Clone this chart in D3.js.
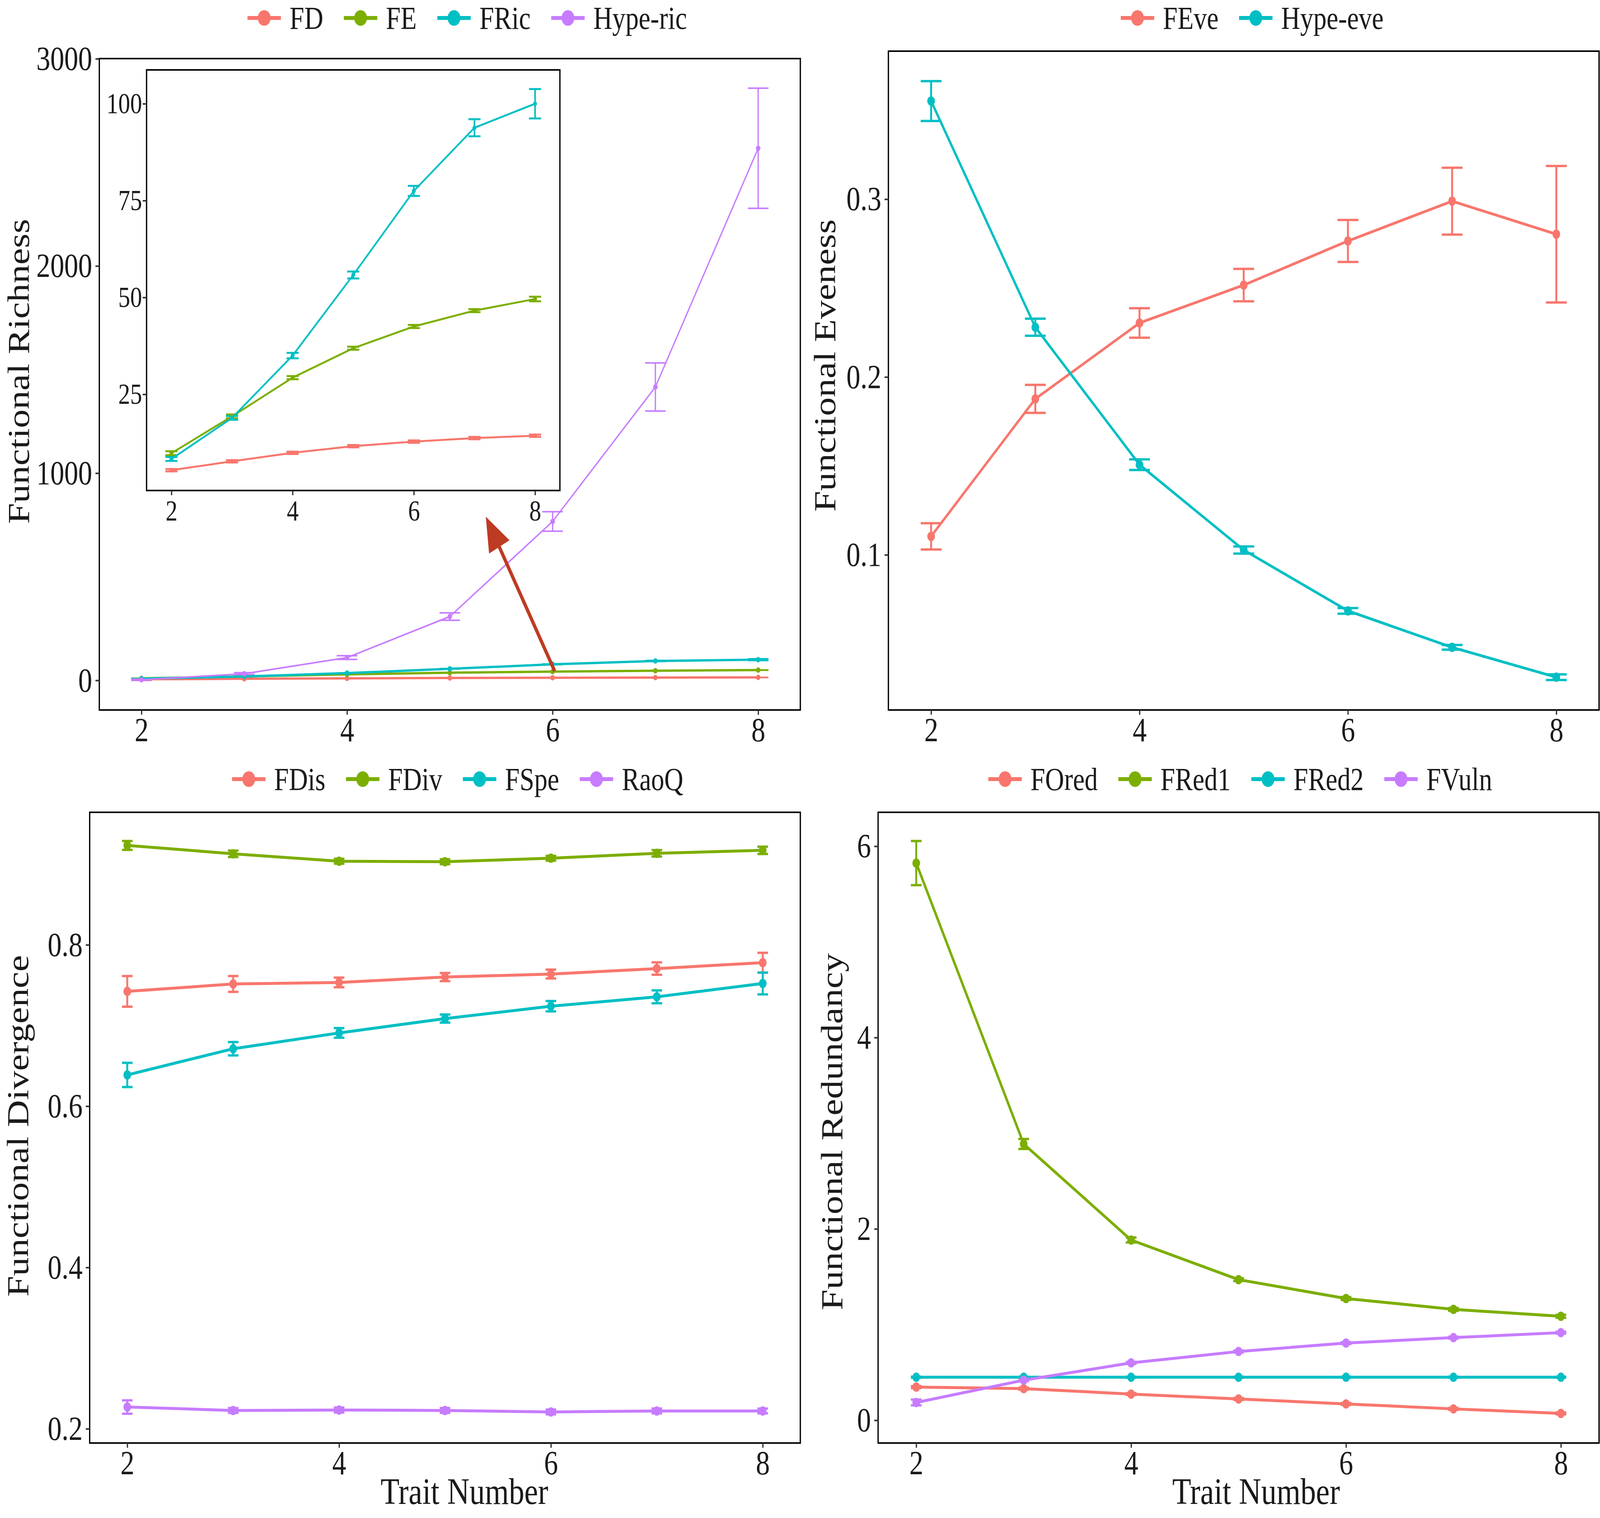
<!DOCTYPE html>
<html>
<head>
<meta charset="utf-8">
<title>Functional diversity and trait number</title>
<script src="https://cdn.jsdelivr.net/npm/d3@7"></script>
<style>
  html, body { margin: 0; padding: 0; background: #fff; overflow: hidden; }
  svg { display: block; }
</style>
</head>
<body>
<script>
// x axis: number of traits
var traits = [2, 3, 4, 5, 6, 7, 8];
var xTicks = [2, 4, 6, 8];

// panel a: functional richness (mean and error)
var richNames = ["FD", "FE", "FRic", "Hype-ric"];
var fdMean = [5.4, 7.7, 9.9, 11.6, 12.8, 13.7, 14.3];
var fdSe = [0.3, 0.3, 0.3, 0.3, 0.3, 0.3, 0.3];
var feMean = [9.8, 19.3, 29.3, 36.9, 42.5, 46.6, 49.6];
var feSe = [0.5, 0.5, 0.4, 0.4, 0.4, 0.4, 0.6];
var fricMean = [8.3, 18.9, 35.0, 55.8, 77.5, 93.8, 100.0];
var fricSe = [0.5, 0.5, 0.7, 0.9, 1.3, 2.2, 3.8];
var hypeRicMean = [3, 32, 110, 308, 767, 1416, 2568];
var hypeRicSe = [3, 5, 9, 18, 47, 116, 290];
var richTicks = [0, 1000, 2000, 3000];
var insetTicks = [25, 50, 75, 100];

// panel b: functional evenness
var evenNames = ["FEve", "Hype-eve"];
var feveMean = [0.1104, 0.1877, 0.2304, 0.2517, 0.2765, 0.2989, 0.2803];
var feveSe = [0.0074, 0.0079, 0.0083, 0.0091, 0.0118, 0.0188, 0.0384];
var hypeEveMean = [0.3552, 0.2280, 0.1507, 0.1027, 0.0685, 0.0480, 0.0312];
var hypeEveSe = [0.0112, 0.0048, 0.0030, 0.0020, 0.0016, 0.0013, 0.0016];
var evenTicks = [0.1, 0.2, 0.3];

// panel c: functional divergence
var divNames = ["FDis", "FDiv", "FSpe", "RaoQ"];
var fdisMean = [0.7423, 0.7515, 0.7534, 0.7601, 0.7638, 0.7706, 0.7779];
var fdisSe = [0.019, 0.0098, 0.006, 0.005, 0.0055, 0.0077, 0.0123];
var fdivMean = [0.9233, 0.9129, 0.9037, 0.9031, 0.9074, 0.9135, 0.9172];
var fdivSe = [0.0055, 0.004, 0.003, 0.003, 0.003, 0.004, 0.0045];
var fspeMean = [0.6387, 0.6712, 0.6908, 0.7086, 0.7239, 0.7356, 0.7521];
var fspeSe = [0.015, 0.0083, 0.006, 0.005, 0.0064, 0.008, 0.0135];
var raoqMean = [0.2270, 0.2227, 0.2233, 0.2227, 0.2209, 0.2221, 0.2221];
var raoqSe = [0.0083, 0.003, 0.003, 0.003, 0.003, 0.003, 0.003];
var divTicks = [0.2, 0.4, 0.6, 0.8];

// panel d: functional redundancy
var redNames = ["FOred", "FRed1", "FRed2", "FVuln"];
var foredMean = [0.347, 0.331, 0.274, 0.223, 0.171, 0.119, 0.072];
var foredSe = [0.01, 0.01, 0.01, 0.01, 0.01, 0.01, 0.01];
var fred1Mean = [5.824, 2.888, 1.884, 1.470, 1.273, 1.159, 1.087];
var fred1Se = [0.231, 0.052, 0.026, 0.015, 0.015, 0.015, 0.015];
var fred2Mean = [0.45, 0.45, 0.45, 0.45, 0.45, 0.45, 0.45];
var fred2Se = [0.005, 0.005, 0.005, 0.005, 0.005, 0.005, 0.005];
var fvulnMean = [0.186, 0.419, 0.600, 0.719, 0.807, 0.864, 0.916];
var fvulnSe = [0.03, 0.01, 0.01, 0.01, 0.01, 0.01, 0.01];
var redTicks = [0, 2, 4, 6];

// annotation arrow (data units of panel a)
var arrowFrom = [6.02, 45];
var arrowTo = [5.35, 790];

var hue4 = ["#F8766D", "#7CAE00", "#00BFC4", "#C77CFF"];
var hue2 = ["#F8766D", "#00BFC4"];
var FONT = '"Liberation Serif", "Times New Roman", Times, serif';
var INK = "#1a1a1a";

// drawing units = pixels of the 4978 x 3887 figure; the svg is stretched over the whole window
var W = 4978, H = 3887;
var svg = d3.select("body").append("svg")
    .attr("width", "100vw")
    .attr("height", "100vh")
    .attr("viewBox", "0 0 " + W + " " + H)
    .attr("preserveAspectRatio", "none");
svg.append("rect").attr("width", W).attr("height", H).attr("fill", "#fff");

function styleAxis(ax, size) {
    ax.attr("font-family", FONT).attr("font-size", size);
    ax.select(".domain").remove();
    ax.selectAll(".tick line").attr("stroke", "#333").attr("stroke-width", 4);
    ax.selectAll(".tick text").attr("fill", INK);
}

// one ggplot-like panel: errorbars, lines, points, border, axes
function drawPanel(o) {
    var g = svg.append("g");
    var half = o.errW / 2;
    var xd = [traits[0] - half, traits[traits.length - 1] + half];
    var xe = (xd[1] - xd[0]) * 0.05;
    var x = d3.scaleLinear().domain([xd[0] - xe, xd[1] + xe]).range([o.box[0], o.box[1]]);
    var lo = d3.min(o.series, function(s){ return d3.min(s.mean, function(m, i){ return m - s.se[i]; }); });
    var hi = d3.max(o.series, function(s){ return d3.max(s.mean, function(m, i){ return m + s.se[i]; }); });
    var ye = (hi - lo) * 0.05;
    var y = d3.scaleLinear().domain([lo - ye, hi + ye]).range([o.box[3], o.box[2]]);

    g.append("rect")
        .attr("x", o.box[0]).attr("y", o.box[2])
        .attr("width", o.box[1] - o.box[0]).attr("height", o.box[3] - o.box[2])
        .attr("fill", "#fff");

    //误差线
    o.series.forEach(function(s){
        g.append("g").selectAll("path")
            .data(traits)
            .join("path")
            .attr("d", function(t, i){
                var yt = y(s.mean[i] + s.se[i]), yb = y(s.mean[i] - s.se[i]);
                var xa = x(t - half), xb = x(t + half), xc = x(t);
                return "M" + xa + "," + yt + "H" + xb +
                       "M" + xc + "," + yt + "V" + yb +
                       "M" + xa + "," + yb + "H" + xb;
            })
            .attr("fill", "none")
            .attr("stroke", s.color)
            .attr("stroke-width", o.errStroke);
    });

    var line = d3.line()
        .x(function(d, i){ return x(traits[i]); })
        .y(function(d){ return y(d); });
    o.series.forEach(function(s){
        g.append("path")
            .attr("d", line(s.mean))
            .attr("fill", "none")
            .attr("stroke", s.color)
            .attr("stroke-width", s.lineW || o.lineW)
            .attr("stroke-linejoin", "round");
    });
    o.series.forEach(function(s){
        g.append("g").selectAll("circle")
            .data(s.mean)
            .join("circle")
            .attr("cx", function(d, i){ return x(traits[i]); })
            .attr("cy", function(d){ return y(d); })
            .attr("r", o.r)
            .attr("fill", s.color);
    });

    g.append("rect")
        .attr("x", o.box[0]).attr("y", o.box[2])
        .attr("width", o.box[1] - o.box[0]).attr("height", o.box[3] - o.box[2])
        .attr("fill", "none")
        .attr("stroke", "#000")
        .attr("stroke-width", 4);

    var ax = g.append("g")
        .attr("transform", "translate(0," + o.box[3] + ")")
        .call(d3.axisBottom(x).tickValues(xTicks).tickSize(12).tickPadding(o.xPad).tickFormat(d3.format("d")));
    styleAxis(ax, o.font);

    var ay = g.append("g")
        .attr("transform", "translate(" + o.box[0] + ",0)")
        .call(d3.axisLeft(y).tickValues(o.yTicks).tickSize(12).tickPadding(o.yPad).tickFormat(o.yFmt));
    styleAxis(ay, o.font);

    if (o.yTitle) {
        g.append("text")
            .attr("transform", "translate(" + o.yTitlePos[0] + "," + o.yTitlePos[1] + ") rotate(-90)")
            .attr("text-anchor", "middle")
            .attr("font-family", FONT)
            .attr("font-size", 96)
            .attr("fill", INK)
            .text(o.yTitle);
    }
    if (o.xTitle) {
        g.append("text")
            .attr("x", o.xTitlePos[0]).attr("y", o.xTitlePos[1])
            .attr("text-anchor", "middle")
            .attr("font-family", FONT)
            .attr("font-size", 96)
            .attr("fill", INK)
            .text(o.xTitle);
    }
    return { x: x, y: y, g: g };
}

function legend(names, colors, x0, cy) {
    var lg = svg.append("g");
    var x = x0;
    names.forEach(function(n, i){
        lg.append("line")
            .attr("x1", x).attr("x2", x + 104)
            .attr("y1", cy).attr("y2", cy)
            .attr("stroke", colors[i])
            .attr("stroke-width", 10);
        lg.append("circle")
            .attr("cx", x + 52).attr("cy", cy)
            .attr("r", 20)
            .attr("fill", colors[i]);
        var t = lg.append("text")
            .attr("x", x + 131).attr("y", cy + 28)
            .attr("font-family", FONT)
            .attr("font-size", 82)
            .attr("fill", INK)
            .text(n);
        x = x + 131 + t.node().getComputedTextLength() + 64;
    });
}

function makeSeries(names, colors, means, ses) {
    return names.map(function(n, i){
        return { name: n, color: colors[i], mean: means[i], se: ses[i] };
    });
}

// ---- panel a ----
var richSeries = makeSeries(richNames, hue4,
    [fdMean, feMean, fricMean, hypeRicMean], [fdSe, feSe, fricSe, hypeRicSe]);
richSeries[3].lineW = 4;
var pa = drawPanel({
    box: [309, 2490, 150, 1818], series: richSeries, errW: 0.2,
    lineW: 6, r: 7, errStroke: 4, font: 87, xPad: 6, yPad: 10,
    yTicks: richTicks, yFmt: d3.format("d"),
    yTitle: "Functional Richness", yTitlePos: [90, 951]
});

// arrow pointing to the inset
var p0 = [pa.x(arrowFrom[0]), pa.y(arrowFrom[1])];
var p1 = [pa.x(arrowTo[0]), pa.y(arrowTo[1])];
var dx = p0[0] - p1[0], dy = p0[1] - p1[1];
var len = Math.sqrt(dx * dx + dy * dy);
var ux = dx / len, uy = dy / len;
var headL = 88, headW = 36;
var base = [p1[0] + ux * headL, p1[1] + uy * headL];
svg.append("line")
    .attr("x1", p0[0]).attr("y1", p0[1])
    .attr("x2", base[0] - ux * 4).attr("y2", base[1] - uy * 4)
    .attr("stroke", "#BE3B23")
    .attr("stroke-width", 10);
svg.append("path")
    .attr("d", "M" + p1[0] + "," + p1[1] +
               "L" + (base[0] - uy * headW) + "," + (base[1] + ux * headW) +
               "L" + (base[0] + uy * headW) + "," + (base[1] - ux * headW) + "Z")
    .attr("fill", "#BE3B23");

// inset: the three small indices
drawPanel({
    box: [456, 1742, 179, 1256], series: richSeries.slice(0, 3), errW: 0.2,
    lineW: 5, r: 6, errStroke: 5, font: 74, xPad: 12, yPad: 2,
    yTicks: insetTicks, yFmt: d3.format("d")
});
legend(richNames, hue4, 770, 46);

// ---- panel b ----
drawPanel({
    box: [2764, 4975, 131, 1818],
    series: makeSeries(evenNames, hue2, [feveMean, hypeEveMean], [feveSe, hypeEveSe]),
    errW: 0.2, lineW: 7, r: 12, errStroke: 6, font: 87, xPad: 6, yPad: 10,
    yTicks: evenTicks, yFmt: d3.format(".1f"),
    yTitle: "Functional Eveness", yTitlePos: [2598, 936]
});
legend(evenNames, hue2, 3487, 46);

// ---- panel c ----
drawPanel({
    box: [279, 2490, 2080, 3695],
    series: makeSeries(divNames, hue4, [fdisMean, fdivMean, fspeMean, raoqMean], [fdisSe, fdivSe, fspeSe, raoqSe]),
    errW: 0.1, lineW: 7.5, r: 12, errStroke: 6, font: 87, xPad: 6, yPad: 10,
    yTicks: divTicks, yFmt: d3.format(".1f"),
    yTitle: "Functional Divergence", yTitlePos: [88, 2883],
    xTitle: "Trait Number", xTitlePos: [1445, 3851]
});
legend(divNames, hue4, 722, 1995);

// ---- panel d ----
drawPanel({
    box: [2732, 4975, 2080, 3695],
    series: makeSeries(redNames, hue4, [foredMean, fred1Mean, fred2Mean, fvulnMean], [foredSe, fred1Se, fred2Se, fvulnSe]),
    errW: 0.1, lineW: 7.5, r: 12, errStroke: 6, font: 87, xPad: 6, yPad: 10,
    yTicks: redTicks, yFmt: d3.format("d"),
    yTitle: "Functional Redundancy", yTitlePos: [2620, 2898],
    xTitle: "Trait Number", xTitlePos: [3908, 3851]
});
legend(redNames, hue4, 3075, 1995);
</script>
</body>
</html>
